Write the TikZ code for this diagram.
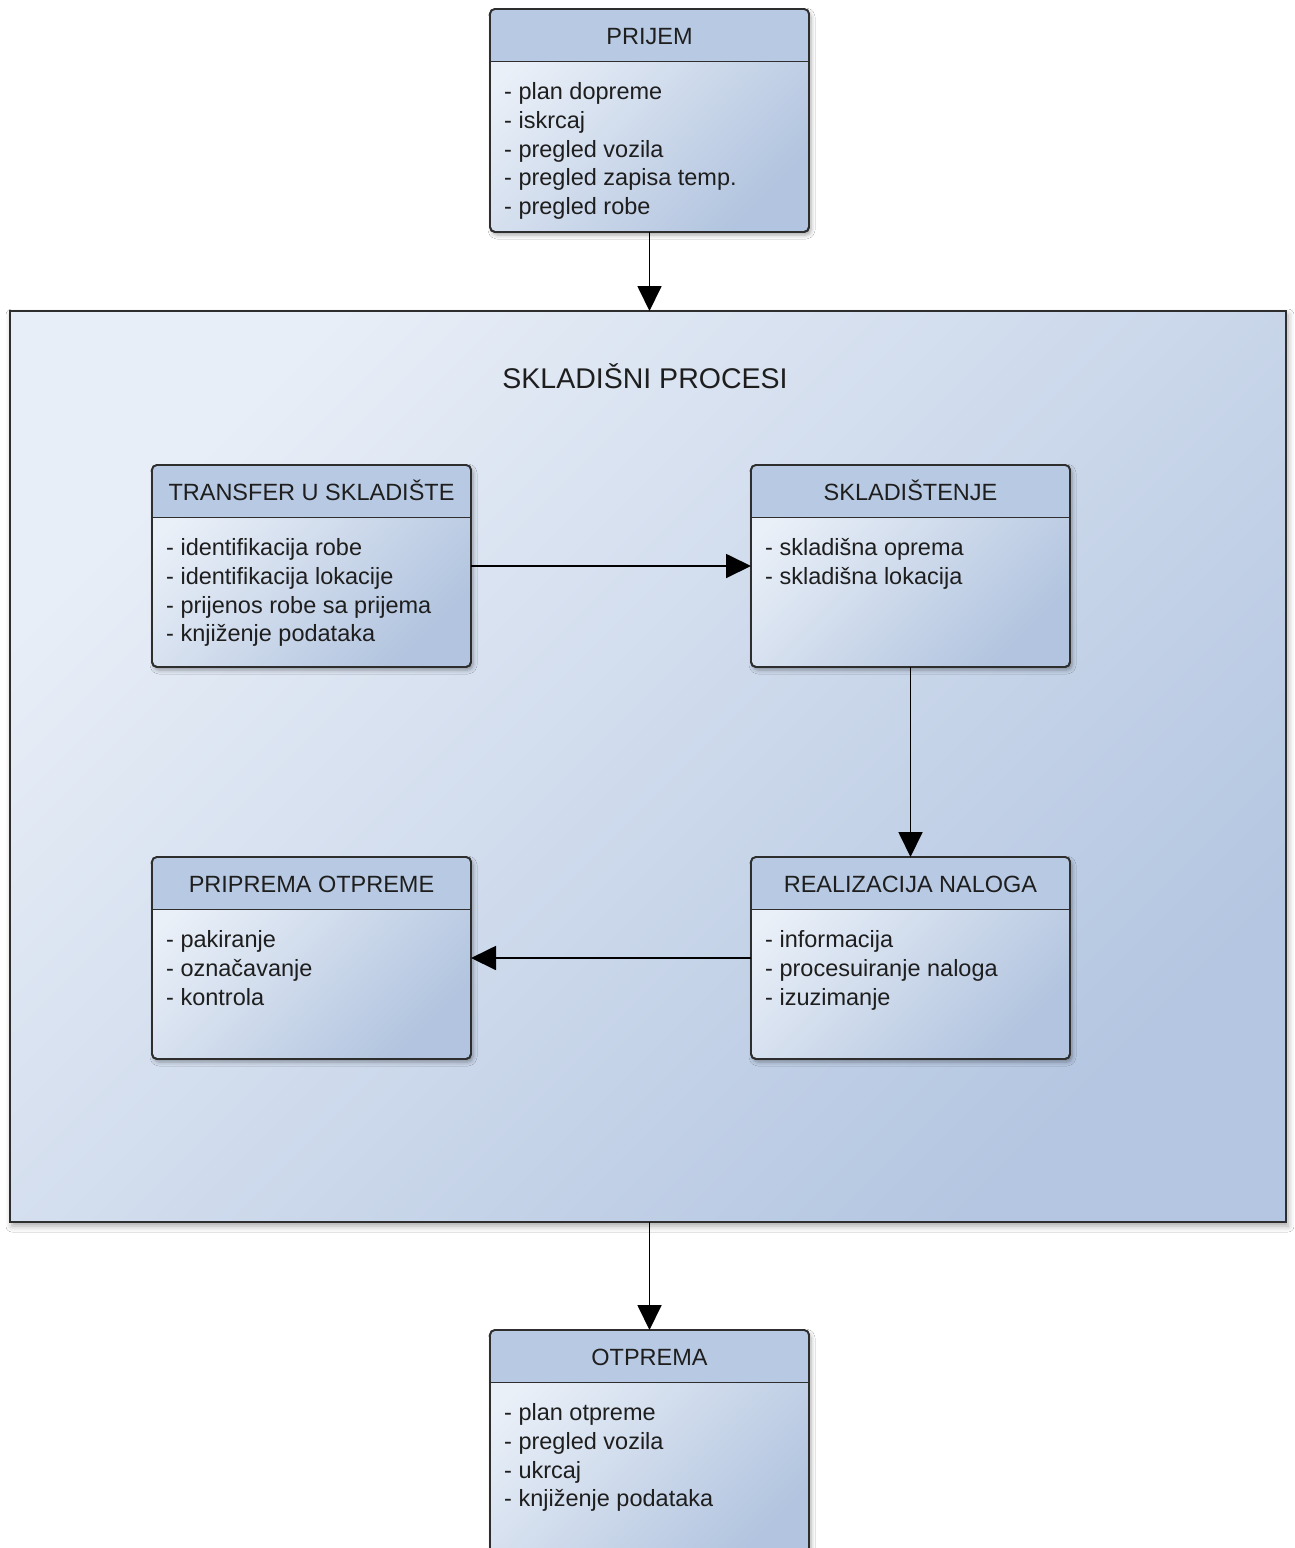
\documentclass[tikz,border=0pt]{standalone}
\usepackage{fontspec}
\setmainfont{Liberation Sans}
\usetikzlibrary{arrows.meta,shadows.blur,calc}
\definecolor{bodyA}{HTML}{EAF0F8}
\definecolor{bodyB}{HTML}{B2C4DF}
\definecolor{hdr}{HTML}{B8CAE3}
\definecolor{contA}{HTML}{E8EEF7}
\definecolor{contB}{HTML}{B4C6E1}
\definecolor{edge}{HTML}{2E2E2E}
\definecolor{txt}{HTML}{1E1E1E}
\tikzset{
  boxbody/.style={rectangle, rounded corners=5pt, draw=edge, line width=1.8pt,
    top color=bodyA, bottom color=bodyB, shading angle=45,
    minimum width=319pt, outer sep=0pt, inner sep=0pt,
    blur shadow={shadow xshift=2pt, shadow yshift=-3pt, shadow blur radius=4pt, shadow opacity=35}},
  container/.style={rectangle, draw=edge, line width=1.8pt,
    top color=contA, bottom color=contB, shading angle=45,
    minimum width=1276pt, minimum height=911pt, outer sep=0pt, inner sep=0pt,
    blur shadow={shadow xshift=2pt, shadow yshift=-4pt, shadow blur radius=6pt, shadow opacity=35}},
  boxline/.style={draw=edge, line width=1.8pt},
  titletext/.style={font=\fontsize{23.5}{28.8}\selectfont, text=txt, inner sep=0pt, anchor=base},
  bodytext/.style={font=\fontsize{23.5}{28.8}\selectfont, text=txt, inner sep=0pt, anchor=base west},
  bigtitle/.style={font=\fontsize{28.5}{34}\selectfont, text=txt, inner sep=0pt, anchor=base},
  conn/.style={line width=1.8pt, draw=black, -{Triangle[width=24pt,length=25pt]}}
}
\newcommand{\procbox}[5]{%
  \node[boxbody, minimum height=#3pt, anchor=north west] (#1) at #2 {};
  \fill[hdr, rounded corners=5pt] (#1.north west) rectangle ($(#1.north east)+(0,52.5)$);
  \fill[hdr] ($(#1.north west)+(0,30)$) rectangle ($(#1.north east)+(0,52.5)$);
  \draw[boxline] ($(#1.north west)+(0,52.5)$) -- ($(#1.north east)+(0,52.5)$);
  \draw[boxline, rounded corners=5pt] (#1.north west) rectangle (#1.south east);
  \node[titletext] (#1-title) at ($(#1.north)+(0,35.5)$) {#4};
  \foreach \t [count=\i] in {#5} {
    \node[bodytext] (#1-line\i) at ($(#1.north west)+(14,{90.5+(\i-1)*28.8})$) {- \t};
  }
}
\begin{document}
\begin{tikzpicture}[x=1pt,y=-1pt]
\useasboundingbox (0,0) rectangle (1294,1548);
\fill[white] (0,0) rectangle (1294,1548);
\clip (0,0) rectangle (1294,1548);

\node[container, anchor=north west] (proc) at (10,311) {};
\node[bigtitle] (proctitle) at (645,388) {SKLADIŠNI PROCESI};

\procbox{prijem}{(490,9)}{223}{PRIJEM}{plan dopreme,iskrcaj,pregled vozila,pregled zapisa temp.,pregled robe}
\procbox{transfer}{(152,465)}{202}{TRANSFER U SKLADIŠTE}{identifikacija robe,identifikacija lokacije,prijenos robe sa prijema,knjiženje podataka}
\procbox{sklad}{(751,465)}{202}{SKLADIŠTENJE}{skladišna oprema,skladišna lokacija}
\procbox{priprema}{(152,857)}{202}{PRIPREMA OTPREME}{pakiranje,označavanje,kontrola}
\procbox{realiz}{(751,857)}{202}{REALIZACIJA NALOGA}{informacija,procesuiranje naloga,izuzimanje}
\procbox{otprema}{(490,1330)}{240}{OTPREMA}{plan otpreme,pregled vozila,ukrcaj,knjiženje podataka}

\draw[conn] (prijem.south) -- (prijem.south |- proc.north);
\draw[conn] (transfer.east) -- (sklad.west);
\draw[conn] (sklad.south) -- (realiz.north);
\draw[conn] (realiz.west) -- (priprema.east);
\draw[conn] (otprema.north |- proc.south) -- (otprema.north);
\end{tikzpicture}
\end{document}
